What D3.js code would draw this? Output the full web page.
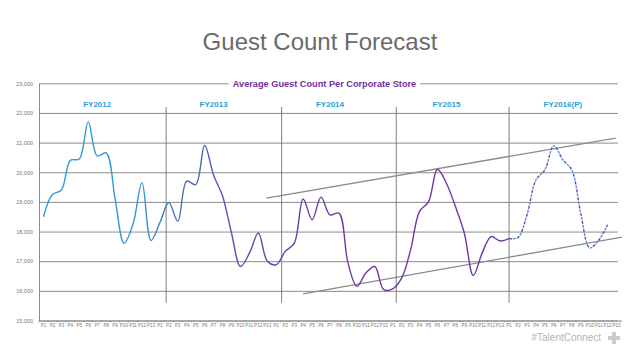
<!DOCTYPE html>
<html>
<head>
<meta charset="utf-8">
<script src="https://cdn.jsdelivr.net/npm/d3@7"></script>
<style>
  body { margin: 0; background: #fff; }
  svg { display: block; font-family: "Liberation Sans", Arial, sans-serif; }
</style>
</head>
<body>
<svg id="chart" width="638" height="359"></svg>
<script>
// fiscal years and the 13 periods of each year
const years = ["FY2012", "FY2013", "FY2014", "FY2015", "FY2016(P)"];
const periods = ["P1","P2","P3","P4","P5","P6","P7","P8","P9","P10","P11","P12","P13"];

// average guest count per period, last year is the projection
const guestCount = [
  18500, 19250, 19400, 20400, 20450, 21700, 20550, 20650, 19100, 17600, 18250, 19650, 17700,
  18300, 18980, 18350, 19700, 19580, 20900, 19900, 19200, 17950, 16820, 17270, 17950, 17000,
  16880, 17330, 17600, 19100, 18400, 19160, 18560, 18620, 16950, 16150, 16600, 16820, 16040,
  16070, 16430, 17380, 18680, 19000, 20100, 19630, 18850, 17950, 16520, 17280, 17830, 17680,
  17760, 17800, 18560, 19740, 20080, 20890, 20420, 20080, 18620, 17450, 17700, 18230
];
const forecastStart = 52;   // index where the dashed projection begins

const yTicks = [15000, 16000, 17000, 18000, 19000, 20000, 21000, 22000, 23000];

// year separators (period index) and trend channel [index, value]
const yearBreaks = [13.7, 26.6, 39.4, 52.0];
const upperTrend = [[24.9, 19130], [63.9, 21150]];
const lowerTrend = [[29.0, 15900], [64.6, 17810]];

const title = "Guest Count Forecast";
const subtitle = "Average Guest Count Per Corporate Store";

// categories: every period of every year
const categories = [];
years.forEach(function(fy, yi) {
  periods.forEach(function(p, pi) {
    categories.push({ key: yi * 13 + pi, label: p });
  });
});

const svg = d3.select("#chart");
const plotLeft = 39, plotRight = 621, plotTop = 83.3, plotBottom = 320.5;

const xBand = d3.scaleBand()
  .domain(categories.map(d => d.key))
  .range([plotLeft, plotRight])
  .padding(0);
const xi = d3.scaleLinear().domain([-0.5, categories.length - 0.5]).range([plotLeft, plotRight]);
const y = d3.scaleLinear().domain([15000, 23000]).range([plotBottom, plotTop]);

// main title
svg.append("text")
  .attr("x", 320).attr("y", 50)
  .attr("text-anchor", "middle")
  .attr("font-size", 24)
  .attr("fill", "#6a6a6a")
  .text(title);

// gridlines
svg.append("g")
  .attr("transform", "translate(" + plotLeft + ",0)")
  .call(d3.axisLeft(y).tickValues(yTicks).tickSize(-(618 - plotLeft)).tickFormat(""))
  .call(g => g.select(".domain").remove())
  .call(g => g.selectAll("line").attr("stroke", "#8c8c8c").attr("stroke-width", 1));

// y labels
svg.append("g")
  .attr("transform", "translate(" + plotLeft + ",0)")
  .call(d3.axisLeft(y).tickValues(yTicks).tickSize(0).tickPadding(6).tickFormat(d3.format(",")))
  .call(g => g.select(".domain").attr("stroke", "#8c8c8c"))
  .call(g => g.selectAll("text").attr("font-size", 5.5).attr("fill", "#777").attr("font-family", "Liberation Sans, Arial, sans-serif"));

// x axis
const xAxis = svg.append("g")
  .attr("transform", "translate(0," + plotBottom + ")")
  .call(d3.axisBottom(xBand).tickSize(0).tickPadding(3.5).tickFormat(k => categories[k].label));
xAxis.select(".domain").attr("stroke", "#8c8c8c");
xAxis.selectAll("text").attr("font-size", 4.5).attr("fill", "#777").attr("font-family", "Liberation Sans, Arial, sans-serif");
xAxis.selectAll(".bound")
  .data(d3.range(categories.length + 1))
  .join("line")
  .attr("class", "bound")
  .attr("x1", i => xi(i - 0.5)).attr("x2", i => xi(i - 0.5))
  .attr("y1", 0).attr("y2", 2)
  .attr("stroke", "#8c8c8c").attr("stroke-width", 0.6);

// subtitle sits on the top gridline, white box behind it
const subBg = svg.append("rect").attr("fill", "#fff");
const sub = svg.append("text")
  .attr("x", 324.5).attr("y", plotTop + 3.2)
  .attr("text-anchor", "middle")
  .attr("font-size", 9.2)
  .attr("font-weight", "bold")
  .attr("fill", "#7030a0")
  .text(subtitle);
const bb = sub.node().getBBox();
subBg.attr("x", bb.x - 4).attr("y", bb.y).attr("width", bb.width + 8).attr("height", bb.height);

// year separators
svg.selectAll(".sep")
  .data(yearBreaks)
  .join("line")
  .attr("class", "sep")
  .attr("x1", d => xi(d)).attr("x2", d => xi(d))
  .attr("y1", y(22200)).attr("y2", y(15600))
  .attr("stroke", "#7f7f7f").attr("stroke-width", 1);

// year labels
svg.selectAll(".fy")
  .data(years)
  .join("text")
  .attr("class", "fy")
  .attr("x", (d, i) => xi(i * 13 + 6))
  .attr("y", 107)
  .attr("text-anchor", "middle")
  .attr("font-size", 8)
  .attr("font-weight", "bold")
  .attr("fill", "#2a9fd8")
  .text(d => d);

// trend channel
const trendLine = d3.line().x(d => xi(d[0])).y(d => y(d[1]));
[upperTrend, lowerTrend].forEach(function(t) {
  svg.append("path")
    .attr("d", trendLine(t))
    .attr("fill", "none")
    .attr("stroke", "#8a8a8a")
    .attr("stroke-width", 1.3);
});

// gradient blue -> purple over the actuals
const defs = svg.append("defs");
const grad = defs.append("linearGradient")
  .attr("id", "lineGrad")
  .attr("gradientUnits", "userSpaceOnUse")
  .attr("x1", xi(0)).attr("x2", xi(forecastStart))
  .attr("y1", 0).attr("y2", 0);
[[0, "#2c9cd6"], [11, "#3597d2"], [16, "#4a6cb8"], [24, "#6048aa"], [30, "#6e3ba2"], [forecastStart, "#6f36a0"]]
  .forEach(function(s) {
    grad.append("stop").attr("offset", s[0] / forecastStart).attr("stop-color", s[1]);
  });

const pts = guestCount.map((v, i) => [i, v]);
const line = d3.line()
  .x(d => xi(d[0]))
  .y(d => y(d[1]))
  .curve(d3.curveCatmullRom.alpha(0.5));

svg.append("path")
  .attr("d", line(pts.slice(0, forecastStart + 1)))
  .attr("fill", "none")
  .attr("stroke", "url(#lineGrad)")
  .attr("stroke-width", 1.4);

const fc = pts.slice(forecastStart);
svg.append("path")
  .attr("d", line(fc))
  .attr("fill", "none")
  .attr("stroke", "#7a3ea6")
  .attr("stroke-width", 1.4)
  .attr("stroke-dasharray", "3 5");
svg.append("path")
  .attr("d", line(fc))
  .attr("fill", "none")
  .attr("stroke", "#3ba3da")
  .attr("stroke-width", 1.4)
  .attr("stroke-dasharray", "3 5")
  .attr("stroke-dashoffset", -4);

// footer tag
svg.append("text")
  .attr("x", 601).attr("y", 341)
  .attr("text-anchor", "end")
  .attr("font-size", 10)
  .attr("fill", "#b4b4b4")
  .text("#TalentConnect");
svg.append("path")
  .attr("d", "M612,332h4v4h4v4h-4v4h-4v-4h-4v-4h4z")
  .attr("fill", "#cccccc");
</script>
</body>
</html>
